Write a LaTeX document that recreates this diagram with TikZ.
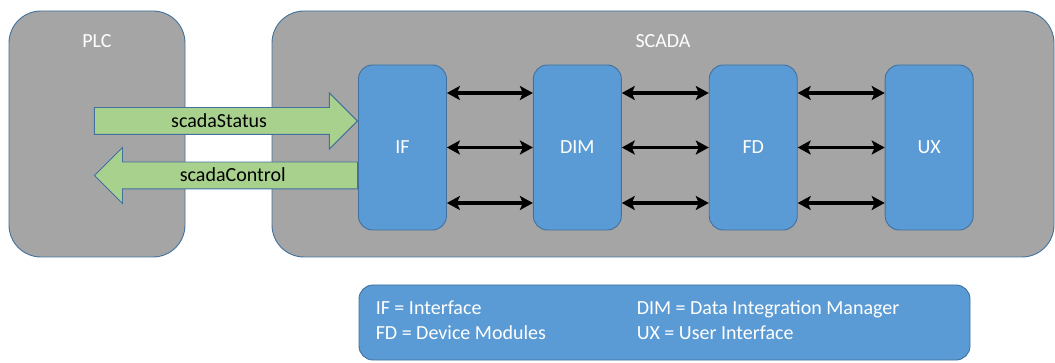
\documentclass[tikz,border=0pt]{standalone}
\usepackage{fontspec}
\setmainfont{Carlito}
\usetikzlibrary{positioning,shapes.arrows,arrows.meta}
\definecolor{boxgray}{HTML}{A5A5A5}
\definecolor{edgeblue}{HTML}{41719C}
\definecolor{modblue}{HTML}{5B9BD5}
\definecolor{flowgreen}{HTML}{A9D18E}
\begin{document}
\begin{tikzpicture}[x=1pt,y=-1pt,
  font=\fontsize{20}{24}\selectfont,
  area/.style={draw=edgeblue,fill=boxgray,line width=0.9pt,rounded corners=32pt,minimum height=246pt},
  module/.style={draw=edgeblue,fill=modblue,line width=0.9pt,rounded corners=14pt,
    minimum width=88pt,minimum height=165pt,text=white},
  flow/.style={single arrow,draw=edgeblue,fill=flowgreen,line width=0.9pt,
    minimum height=263pt,minimum width=55pt,single arrow head extend=14.5pt,
    single arrow head indent=0pt,inner ysep=0pt,inner xsep=0pt,text height=19.5pt,text depth=6.5pt},
  link/.style={line width=3.6pt,{Stealth[length=13pt,width=14pt,inset=3pt]}-{Stealth[length=13pt,width=14pt,inset=3pt]}},
  legtxt/.style={text=white,anchor=base west,inner sep=0pt}]
\useasboundingbox (0,0) rectangle (1055,363);

\node[area,minimum width=176pt] (plc) at (97,134) {};
\node[area,minimum width=782pt] (scada) at (663,134) {};
\node[text=white] (plclbl) at ([yshift=-31pt]plc.north) {PLC};
\node[text=white] (scadalbl) at ([yshift=-31pt]scada.north) {SCADA};

\coordinate (ifw) at (358,147.5);
\node[flow,anchor=tip] (status) at ([yshift=26.5pt]ifw) {scadaStatus};
\node[flow,shape border rotate=180,anchor=tail] (control) at ([yshift=-28pt]ifw) {scadaControl};

\node[module,anchor=west] (IF) at (ifw) {IF};
\node[module,right=86pt of IF] (DIM) {DIM};
\node[module,right=87pt of DIM] (FD) {FD};
\node[module,right=87pt of FD] (UX) {UX};

\foreach \a/\b in {IF/DIM,DIM/FD,FD/UX}
  \foreach \dy in {54.5,0,-55.5}
    \draw[link] ([yshift=\dy pt]\a.east) -- ([yshift=\dy pt]\b.west);

\node[draw=edgeblue,fill=modblue,line width=0.9pt,rounded corners=14pt,
  minimum width=611pt,minimum height=75pt] (legend) at (664.5,322.5) {};
\node[legtxt] (legif) at ([xshift=17pt,yshift=-30pt]legend.north west) {IF = Interface};
\node[legtxt] (legfd) at ([yshift=-25pt]legif.base west) {FD = Device Modules};
\node[legtxt] (legdim) at ([xshift=261pt]legif.base west) {DIM = Data Integration Manager};
\node[legtxt] (legux) at ([yshift=-25pt]legdim.base west) {UX = User Interface};
\end{tikzpicture}
\end{document}
